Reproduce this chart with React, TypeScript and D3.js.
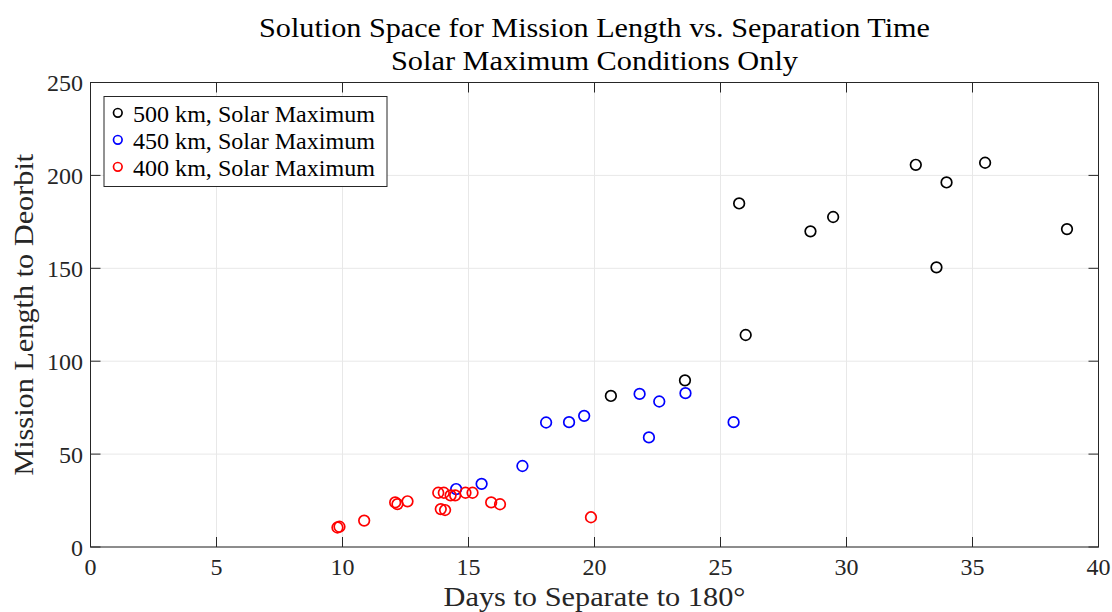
import React from "react";
import * as d3 from "d3";

const series500x = [20.65, 23.59, 25.74, 26.0, 28.57, 29.47, 32.75, 33.57, 33.97, 35.5, 38.75];
const series500y = [81.3, 89.7, 184.9, 114.1, 169.9, 177.6, 205.7, 150.5, 196.2, 206.8, 171.1];
const series450x = [14.51, 15.52, 17.14, 18.08, 18.99, 19.59, 21.79, 22.16, 22.57, 23.61, 25.52];
const series450y = [31.2, 34.0, 43.6, 67.0, 67.2, 70.6, 82.4, 59.0, 78.3, 82.8, 67.2];
const series400x = [9.8, 9.88, 10.86, 12.09, 12.18, 12.58, 13.8, 14.02, 14.29, 14.47, 14.88, 15.16, 13.9, 14.07, 15.9, 16.25, 19.86];
const series400y = [10.5, 10.9, 14.2, 24.0, 23.1, 24.6, 29.2, 29.2, 27.8, 27.8, 29.2, 29.2, 20.4, 19.9, 24.0, 23.0, 16.0];

const xTicks = [0, 5, 10, 15, 20, 25, 30, 35, 40];
const yTicks = [0, 50, 100, 150, 200, 250];
const legendLabels = ["500 km, Solar Maximum", "450 km, Solar Maximum", "400 km, Solar Maximum"];
const colors = ["#000000", "#0000ff", "#ff0000"];
const titleLines = ["Solution Space for Mission Length vs. Separation Time", "Solar Maximum Conditions Only"];
const xLabel = "Days to Separate to 180°";
const yLabel = "Mission Length to Deorbit";

const W = 1112;
const H = 612;
const L = 90.5;
const R = 1098.5;
const T = 82.5;
const B = 547;
const FONT = "'Liberation Serif', 'DejaVu Serif', serif";

export default function App() {
  const x = d3.scaleLinear().domain([0, 40]).range([L, R]);
  const y = d3.scaleLinear().domain([0, 250]).range([B, T]);
  const all = [
    { xs: series500x, ys: series500y, c: colors[0] },
    { xs: series450x, ys: series450y, c: colors[1] },
    { xs: series400x, ys: series400y, c: colors[2] },
  ];
  const axisColor = "#262626";
  const tl = 10;
  const cx = (L + R) / 2;
  const cy = (T + B) / 2;
  const titleLens = [671, 407];
  return (
    <svg width={W} height={H} style={{ position: "absolute", left: 0, top: 0, background: "#fff" }} fontFamily={FONT}>
      <rect x={0} y={0} width={W} height={H} fill="#fff" />
      {xTicks.map((t) => (
        <line key={"gx" + t} x1={x(t)} x2={x(t)} y1={T} y2={B} stroke="#e8e8e8" strokeWidth={1} />
      ))}
      {yTicks.map((t) => (
        <line key={"gy" + t} x1={L} x2={R} y1={y(t)} y2={y(t)} stroke="#e8e8e8" strokeWidth={1} />
      ))}
      {xTicks.map((t) => (
        <g key={"tx" + t}>
          <line x1={x(t)} x2={x(t)} y1={B} y2={B - tl} stroke={axisColor} />
          <line x1={x(t)} x2={x(t)} y1={T} y2={T + tl} stroke={axisColor} />
          <text x={x(t)} y={B + 28} textAnchor="middle" fontSize={24} fill="#262626">{t}</text>
        </g>
      ))}
      {yTicks.map((t) => (
        <g key={"ty" + t}>
          <line x1={L} x2={L + tl} y1={y(t)} y2={y(t)} stroke={axisColor} />
          <line x1={R} x2={R - tl} y1={y(t)} y2={y(t)} stroke={axisColor} />
          <text x={L - 7.5} y={y(t) + 8.5} textAnchor="end" fontSize={24} fill="#262626">{t}</text>
        </g>
      ))}
      <rect x={L} y={T} width={R - L} height={B - T} fill="none" stroke={axisColor} strokeWidth={1} />
      {all.map((s, si) =>
        s.xs.map((xv, i) => (
          <circle key={si + "-" + i} cx={x(xv)} cy={y(s.ys[i])} r={5.3} fill="none" stroke={s.c} strokeWidth={1.7} />
        ))
      )}
      <rect x={104} y={96.5} width={283} height={90} fill="#fff" stroke="#262626" strokeWidth={1} />
      {legendLabels.map((lab, i) => (
        <g key={lab}>
          <circle cx={117.8} cy={112.8 + i * 27} r={4.3} fill="none" stroke={colors[i]} strokeWidth={1.7} />
          <text x={133} y={121.7 + i * 27} fontSize={23} fill="#000" textLength={242} lengthAdjust="spacingAndGlyphs">{lab}</text>
        </g>
      ))}
      {titleLines.map((tt, i) => (
        <text key={tt} x={cx} y={36.7 + i * 33} textAnchor="middle" fontSize={28} fill="#000" textLength={titleLens[i]} lengthAdjust="spacingAndGlyphs">{tt}</text>
      ))}
      <text x={cx} y={606} textAnchor="middle" fontSize={28} fill="#262626" textLength={302} lengthAdjust="spacingAndGlyphs">{xLabel}</text>
      <text transform={`translate(33, ${cy}) rotate(-90)`} textAnchor="middle" fontSize={28} fill="#262626" textLength={322} lengthAdjust="spacingAndGlyphs">{yLabel}</text>
    </svg>
  );
}
